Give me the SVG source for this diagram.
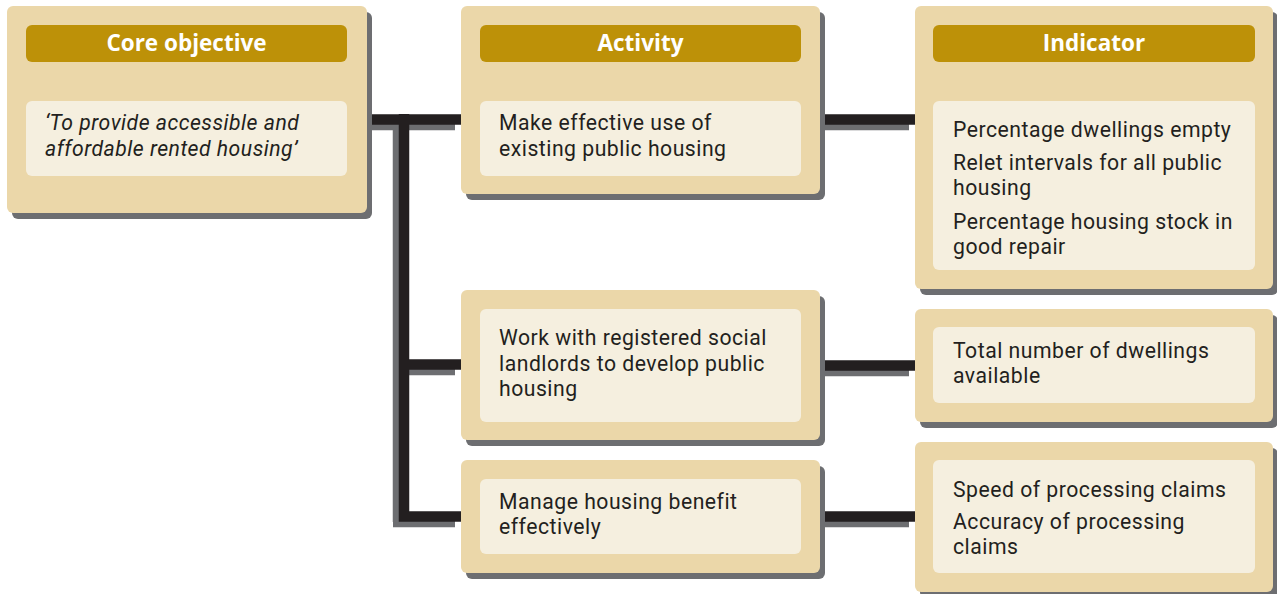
<svg xmlns="http://www.w3.org/2000/svg" width="1277" height="594" viewBox="0 0 1277 594">
<style>
.sh{fill:#6d6e71}
.box{fill:#ebd7a9}
.hd{fill:#bd9108}
.in{fill:#f5efdf}
.ht{font-family:"Open Sans","Noto Sans",sans-serif;font-weight:bold;font-size:22.5px;fill:#ffffff;text-anchor:middle}
.t{font-family:Roboto,"Liberation Sans",sans-serif;font-size:21.2px;letter-spacing:0.5px;fill:#231f20}
.it{font-style:italic}
.ln{stroke:#231f20;stroke-width:10.5;fill:none}
.lns{stroke:#6d6e71;stroke-width:10.5;fill:none}
</style>
<rect width="1277" height="594" fill="#ffffff"/>
<g id="connectors">
<g transform="translate(-6,5.5)" class="lns">
<path d="M367 119.5H461M404 119.5V516.5M399 364.5H461M399 516.5H461"/>
<path d="M820 119.5H915M820 365.5H915M820 516.5H915"/>
</g>
<g class="ln">
<path d="M367 119.5H461M404 114V521.75M399 364.5H461M399 516.5H461"/>
<path d="M820 119.5H915M820 365.5H915M820 516.5H915"/>
</g>
</g>
<g id="core">
<rect class="sh" x="12" y="12" width="360" height="207" rx="6"/>
<rect class="box" x="7" y="6" width="360" height="207" rx="6"/>
<rect class="hd" x="26" y="25" width="321" height="37" rx="6"/>
<text class="ht" x="186.5" y="50.5">Core objective</text>
<rect class="in" x="26" y="101" width="321" height="75" rx="6"/>
<text class="t it" x="45" y="130">‘To provide accessible and<tspan x="45" dy="25.5">affordable rented housing’</tspan></text>
</g>
<g id="activity1">
<rect class="sh" x="466" y="12" width="359" height="188" rx="6"/>
<rect class="box" x="461" y="6" width="359" height="188" rx="6"/>
<rect class="hd" x="480" y="25" width="321" height="37" rx="6"/>
<text class="ht" x="640.5" y="50.5">Activity</text>
<rect class="in" x="480" y="101" width="321" height="75" rx="6"/>
<text class="t" x="499" y="130">Make effective use of<tspan x="499" dy="25.5">existing public housing</tspan></text>
</g>
<g id="activity2">
<rect class="sh" x="466" y="296" width="359" height="150" rx="6"/>
<rect class="box" x="461" y="290" width="359" height="150" rx="6"/>
<rect class="in" x="480" y="309" width="321" height="113" rx="6"/>
<text class="t" x="499" y="345">Work with registered social<tspan x="499" dy="25.5">landlords to develop public</tspan><tspan x="499" dy="25.5">housing</tspan></text>
</g>
<g id="activity3">
<rect class="sh" x="466" y="466" width="359" height="113" rx="6"/>
<rect class="box" x="461" y="460" width="359" height="113" rx="6"/>
<rect class="in" x="480" y="479" width="321" height="75" rx="6"/>
<text class="t" x="499" y="509">Manage housing benefit<tspan x="499" dy="25">effectively</tspan></text>
</g>
<g id="indicator1">
<rect class="sh" x="920" y="12" width="358" height="283" rx="6"/>
<rect class="box" x="915" y="6" width="358" height="283" rx="6"/>
<rect class="hd" x="933" y="25" width="322" height="37" rx="6"/>
<text class="ht" x="1094" y="50.5">Indicator</text>
<rect class="in" x="933" y="101" width="322" height="169" rx="6"/>
<text class="t" x="953" y="137">Percentage dwellings empty</text>
<text class="t" x="953" y="170">Relet intervals for all public<tspan x="953" dy="25">housing</tspan></text>
<text class="t" x="953" y="229">Percentage housing stock in<tspan x="953" dy="25">good repair</tspan></text>
</g>
<g id="indicator2">
<rect class="sh" x="920" y="315" width="358" height="113" rx="6"/>
<rect class="box" x="915" y="309" width="358" height="113" rx="6"/>
<rect class="in" x="933" y="327" width="322" height="76" rx="6"/>
<text class="t" x="953" y="358">Total number of dwellings<tspan x="953" dy="25">available</tspan></text>
</g>
<g id="indicator3">
<rect class="sh" x="920" y="448" width="358" height="150" rx="6"/>
<rect class="box" x="915" y="442" width="358" height="150" rx="6"/>
<rect class="in" x="933" y="460" width="322" height="113" rx="6"/>
<text class="t" x="953" y="496.5">Speed of processing claims</text>
<text class="t" x="953" y="529">Accuracy of processing<tspan x="953" dy="25">claims</tspan></text>
</g>
</svg>
